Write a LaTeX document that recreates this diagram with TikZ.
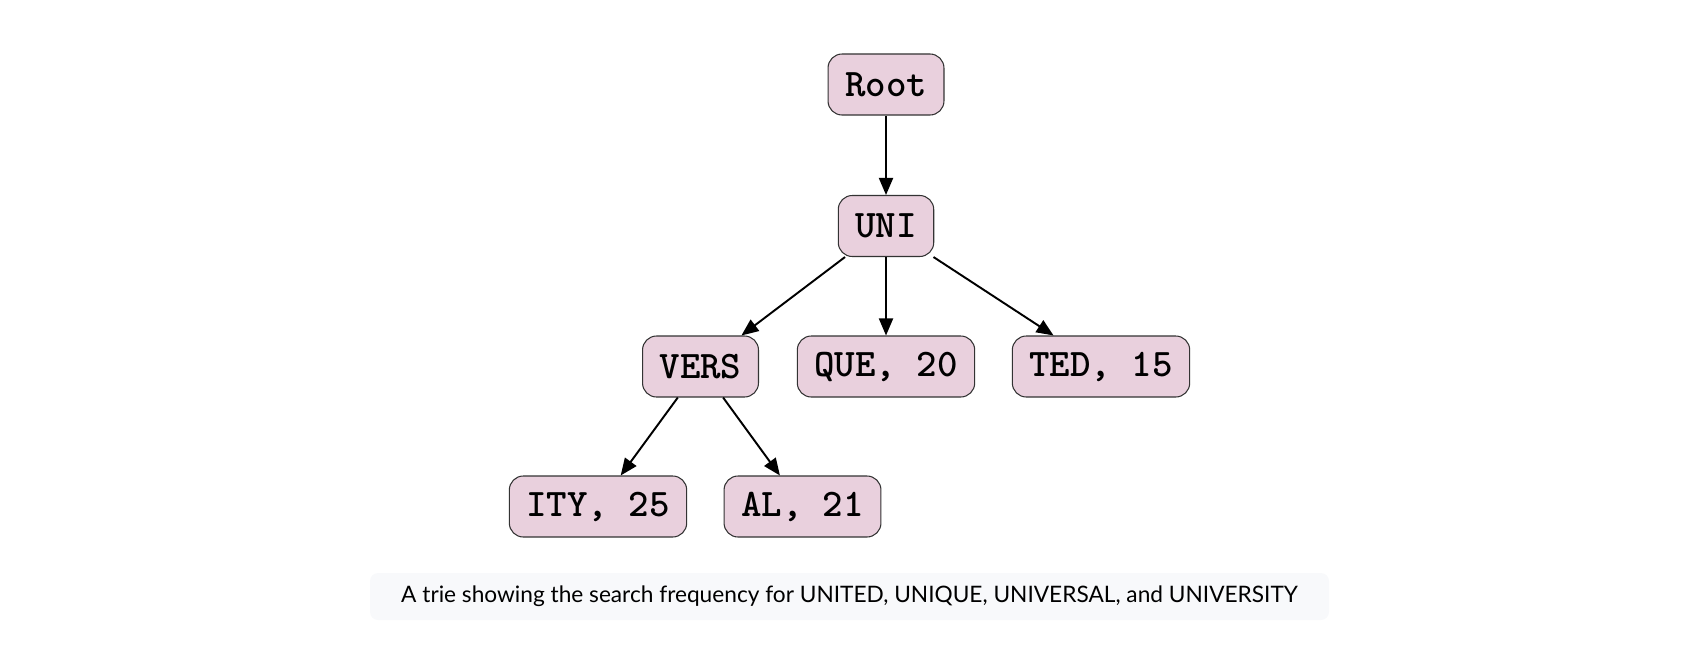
\documentclass[tikz,border=0pt]{standalone}
\usepackage{fontspec}
\usetikzlibrary{arrows.meta}
\newfontfamily\captionfont{Lato}
\definecolor{triepink}{RGB}{233,208,221}
\definecolor{captiongray}{RGB}{248,249,251}
\tikzset{
  trienode/.style={draw=black!80, line width=0.6pt, fill=triepink, rounded corners=0.28cm,
    minimum height=1.22cm, inner xsep=0.34cm, font=\ttfamily\bfseries\fontsize{22.2}{26}\selectfont},
  trieedge/.style={line width=1.1pt, -{Triangle[length=0.34cm,width=0.28cm]}}
}
\begin{document}
\begin{tikzpicture}
    \useasboundingbox (0,0) rectangle (33.84,12.92);
    % Draw the nodes of the trie.
    \node[trienode] (root) at (17.72,11.23) {Root};
    \node[trienode] (uni) at (17.72,8.40) {UNI};
    \node[trienode] (vers) at (14.01,5.59) {VERS};
    \node[trienode] (que) at (17.72,5.59) {QUE, 20};
    \node[trienode] (ted) at (22.02,5.59) {TED, 15};
    \node[trienode] (ity) at (11.96,2.79) {ITY, 25};
    \node[trienode] (al) at (16.05,2.79) {AL, 21};
    % Draw the edges between them.
    \draw[trieedge] (root) -- (uni);
    \draw[trieedge] (uni) -- (vers);
    \draw[trieedge] (uni) -- (que);
    \draw[trieedge] (uni) -- (ted);
    \draw[trieedge] (vers) -- (ity);
    \draw[trieedge] (vers) -- (al);
    % Draw the caption.
    \node[fill=captiongray, rounded corners=0.16cm, minimum width=19.18cm, minimum height=0.94cm,
      font=\captionfont\fontsize{12.9}{15}\selectfont] (caption) at (16.99,0.99)
      {A trie showing the search frequency for UNITED, UNIQUE, UNIVERSAL, and UNIVERSITY};
\end{tikzpicture}
\end{document}
